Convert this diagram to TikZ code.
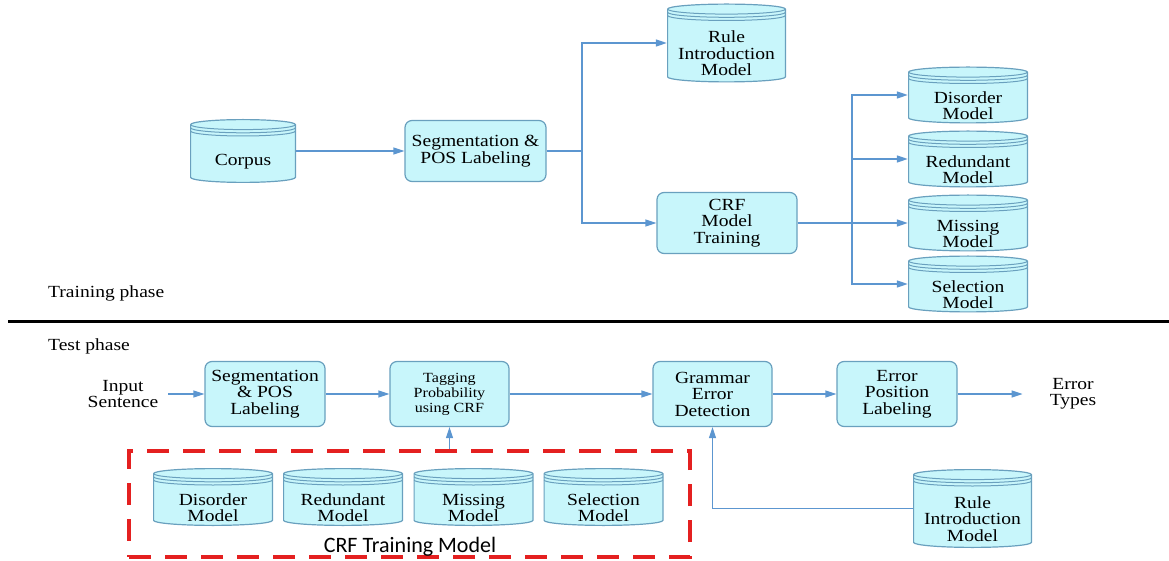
\documentclass[tikz,border=0pt]{standalone}
\usepackage{fontspec}
\setmainfont[FakeStretch=1.15]{Liberation Serif}
\newfontfamily\crffont{Carlito}
\usetikzlibrary{arrows.meta}

\definecolor{boxfill}{RGB}{200,246,251}
\definecolor{boxline}{RGB}{105,160,190}
\definecolor{flow}{RGB}{92,150,208}
\definecolor{crfred}{RGB}{228,32,32}

% extra height on the first line pushes cylinder text below the lid
\newcommand\dbtop{\rule{0pt}{33pt}}

\tikzset{
  procbox/.style={rectangle, rounded corners=7pt, draw=boxline, fill=boxfill,
    line width=1.2pt, align=center, inner sep=2pt,
    minimum width=120pt, minimum height=65pt},
  dbline/.style={draw=boxline, line width=1.2pt},
  dbase/.style={rectangle, minimum width=#1pt, minimum height=57pt,
    inner sep=0pt, align=center,
    path picture={
      \fill[boxfill] ([xshift=0.6pt,yshift=-5.6pt]path picture bounding box.north west)
        -- ([xshift=0.6pt,yshift=5.6pt]path picture bounding box.south west)
        arc[start angle=180,end angle=360,x radius=#1/2-0.6,y radius=5]
        -- ([xshift=-0.6pt,yshift=-5.6pt]path picture bounding box.north east)
        arc[start angle=0,end angle=180,x radius=#1/2-0.6,y radius=5] -- cycle;
      \draw[dbline] ([xshift=0.6pt,yshift=-5.6pt]path picture bounding box.north west)
        -- ([xshift=0.6pt,yshift=5.6pt]path picture bounding box.south west)
        arc[start angle=180,end angle=360,x radius=#1/2-0.6,y radius=5]
        -- ([xshift=-0.6pt,yshift=-5.6pt]path picture bounding box.north east)
        arc[start angle=0,end angle=180,x radius=#1/2-0.6,y radius=5];
      \foreach \d in {5.6,8.8,12}
        \draw[dbline,line width=1pt] ([xshift=0.6pt,yshift=-\d pt]path picture bounding box.north west)
          arc[start angle=180,end angle=360,x radius=#1/2-0.6,y radius=5];
    }},
  dbase/.default=120,
  io/.style={align=center, inner sep=10pt},
  phase/.style={anchor=west, inner sep=0pt},
  crfframe/.style={draw=crfred, line width=4pt, dash pattern=on 22pt off 14pt,
    minimum width=561pt, minimum height=106pt},
  conn/.style={draw=flow, line width=1.3pt, -{Triangle[length=11pt,width=7pt]}},
}

\begin{document}
\begin{tikzpicture}[x=1pt, y=1pt, font=\fontsize{17}{16.5}\selectfont]
\useasboundingbox (0,0) rectangle (1169,560);

% training phase
\node[dbase=106, minimum height=64pt] (corpus) at (243,409) {\dbtop Corpus};
\node[procbox, minimum width=141pt, minimum height=61pt] (seg1) at (475.5,409) {Segmentation \&\\POS Labeling};
\node[dbase=119, minimum height=79pt] (rule1) at (726.5,517) {\dbtop Rule\\Introduction\\Model};
\node[procbox, minimum width=140pt, minimum height=61pt] (crf) at (727,337) {CRF\\Model\\Training};
\node[dbase] (dis1) at (968,465) {\dbtop Disorder\\Model};
\node[dbase] (red1) at (968,401) {\dbtop Redundant\\Model};
\node[dbase] (mis1) at (968,337) {\dbtop Missing\\Model};
\node[dbase] (sel1) at (968,276) {\dbtop Selection\\Model};
\coordinate (fork1) at (582,409);
\coordinate (fork2) at (852,337);

\draw[conn] (corpus) -- (seg1);
\draw[conn] (seg1) -- (fork1) |- (rule1);
\draw[conn] (fork1) |- (crf);
\draw[conn] (crf) -- (fork2) |- (dis1);
\foreach \m in {red1,mis1,sel1}
  \draw[conn] (fork2) |- (\m);

\node[phase] (trainlbl) at (48,267) {Training phase};
\draw[line width=3pt] (8,238) -- (1169,238);
\node[phase] (testlbl) at (48,214) {Test phase};

% test phase
\node[io] (input) at (123,166) {Input\\Sentence};
\node[procbox] (seg2) at (265,166) {Segmentation\\\& POS\\Labeling};
\node[procbox, minimum width=119pt, font=\fontsize{14}{15}\selectfont] (tag) at (449.5,166) {Tagging\\Probability\\using CRF};
\node[procbox, minimum width=119pt] (gram) at (712.5,166) {Grammar\\Error\\Detection};
\node[procbox] (epos) at (897,166) {Error\\Position\\Labeling};
\node[io] (types) at (1073,166) {Error\\Types};

\node[crfframe] (crfbox) at (409.5,56) {};
\node[dbase, minimum height=58pt] (dis2) at (213,63) {\dbtop Disorder\\Model};
\node[dbase, minimum height=58pt] (red2) at (343,63) {\dbtop Redundant\\Model};
\node[dbase, minimum height=58pt] (mis2) at (473.5,63) {\dbtop Missing\\Model};
\node[dbase, minimum height=58pt] (sel2) at (603.5,63) {\dbtop Selection\\Model};
\node[font=\crffont\fontsize{22}{22}\selectfont] (crflbl) at (410,13) {CRF Training Model};
\node[dbase=119, minimum height=79pt] (rule2) at (972.5,51.5) {\dbtop Rule\\Introduction\\Model};

\draw[conn] (input) -- (seg2);
\draw[conn] (seg2) -- (tag);
\draw[conn] (tag) -- (gram);
\draw[conn] (gram) -- (epos);
\draw[conn, shorten >=17pt] (epos) -- (types);
\draw[conn] (tag |- crfbox.north) -- (tag);
\draw[conn] (rule2) -| (gram);
\end{tikzpicture}
\end{document}
